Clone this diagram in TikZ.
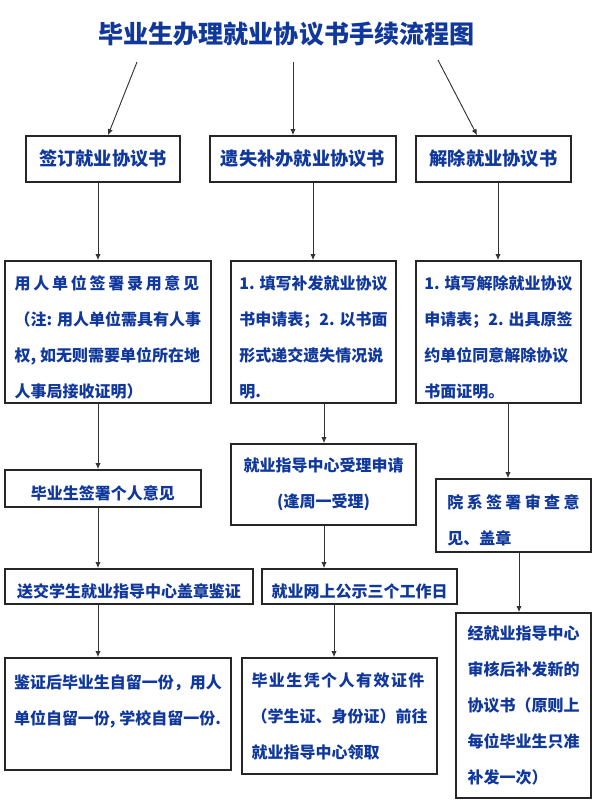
\documentclass[tikz,border=0pt]{standalone}
\usepackage{fontspec}
\setmainfont{Noto Sans CJK SC}
\usetikzlibrary{arrows.meta}
\definecolor{inkblue}{RGB}{16,56,156}
\newcommand\bodyfont{\fontsize{12pt}{27pt}\selectfont\bfseries}
\newcommand\headfont{\fontsize{13.7pt}{16pt}\selectfont\bfseries}
\newcommand\lowstrut{\rule{0pt}{18pt}}
\tikzset{
  box/.style={draw=black!85, line width=1.3pt, text=inkblue, font=\bodyfont,
    align=left, inner sep=0pt},
  boxsize/.style 2 args={minimum width=#1*0.75pt, minimum height=#2*0.75pt},
  flow/.style={->, draw=black!80, line width=0.7pt},
}
\begin{document}
\begin{tikzpicture}[x=0.75pt, y=-0.75pt, >={Latex[length=4.5pt,width=4pt]}]
  \useasboundingbox (0,0) rectangle (600,808);
  \node[text=inkblue, font=\fontsize{18.8pt}{20pt}\selectfont\bfseries] (title) at (286.5,34) {毕业生办理就业协议书手续流程图};
  % three kinds of procedure
  \node[box, font=\headfont, boxsize={154}{46}] (sign) at (103,159) {签订就业协议书};
  \node[box, font=\headfont, boxsize={186}{46}] (lost) at (303,159) {遗失补办就业协议书};
  \node[box, font=\headfont, boxsize={155}{46}] (cancel) at (493.5,159) {解除就业协议书};
  % signing
  \node[box, boxsize={206}{142}] (signUnit) at (108,332) {\lowstrut{\addfontfeature{LetterSpace=17}用人单位签署录用意见}\\（注: 用人单位需具有人事\\权, 如无则需要单位所在地\\人事局接收证明）};
  \node[box, boxsize={196}{37}] (signStu) at (103,488.5) {\lowstrut 毕业生签署个人意见};
  \node[box, boxsize={248}{35}] (signSeal) at (129,586.5) {\lowstrut 送交学生就业指导中心盖章鉴证};
  \node[box, boxsize={226}{112}, text depth=21pt] (signKeep) at (118,714) {鉴证后毕业生自留一份，用人\\单位自留一份, 学校自留一份.};
  % lost
  \node[box, boxsize={165}{142}] (lostForm) at (313.5,332) {\lowstrut 1. 填写补发就业协议\\书申请表；2. 以书面\\形式递交遗失情况说\\明.};
  \node[box, boxsize={185}{81}, align=center] (lostCenter) at (323.5,484.5) {就业指导中心受理申请\\(逢周一受理)};
  \node[box, boxsize={195}{35}] (lostNotice) at (359.5,586.5) {\lowstrut 就业网上公示三个工作日};
  \node[box, boxsize={195}{116}] (lostFetch) at (339.5,716) {{\addfontfeature{LetterSpace=9}毕业生凭个人有效证件}\\（学生证、身份证）前往\\就业指导中心领取};
  % cancel
  \node[box, boxsize={165}{142}] (cancelForm) at (498.5,332) {\lowstrut 1. 填写解除就业协议\\申请表；2. 出具原签\\约单位同意解除协议\\书面证明。};
  \node[box, boxsize={155}{73}] (cancelDept) at (513.5,515.5) {\lowstrut{\addfontfeature{LetterSpace=21}院系签署审查意}\\见、盖章};
  \node[box, boxsize={135}{185}] (cancelReissue) at (523.5,705.5) {经就业指导中心\\审核后补发新的\\协议书（原则上\\每位毕业生只准\\补发一次）};
  % arrows
  \coordinate (t1) at (137,62);
  \coordinate (t2) at (293,62);
  \coordinate (t3) at (438,60);
  \coordinate (h1) at (108,0);
  \coordinate (h3) at (477,0);
  \coordinate (k1) at (98,0);
  \coordinate (k2) at (313,0);
  \coordinate (k3) at (324,0);
  \coordinate (k4) at (334,0);
  \coordinate (k5) at (498,0);
  \coordinate (k6) at (508,0);
  \coordinate (k7) at (519,0);
  \draw[flow] (t1) -- (sign.north -| h1);
  \draw[flow] (t2) -- (lost.north -| t2);
  \draw[flow] (t3) -- (cancel.north -| h3);
  \draw[flow] (sign.south -| k1) -- (signUnit.north -| k1);
  \draw[flow] (signUnit.south -| k1) -- (signStu.north -| k1);
  \draw[flow] (signStu.south -| k1) -- (signSeal.north -| k1);
  \draw[flow] (signSeal.south -| k1) -- (signKeep.north -| k1);
  \draw[flow] (lost.south -| k2) -- (lostForm.north -| k2);
  \draw[flow] (lostForm.south -| k3) -- (lostCenter.north -| k3);
  \draw[flow] (lostCenter.south -| k3) -- (lostNotice.north -| k3);
  \draw[flow] (lostNotice.south -| k4) -- (lostFetch.north -| k4);
  \draw[flow] (cancel.south -| k5) -- (cancelForm.north -| k5);
  \draw[flow] (cancelForm.south -| k6) -- (cancelDept.north -| k6);
  \draw[flow] (cancelDept.south -| k7) -- (cancelReissue.north -| k7);
\end{tikzpicture}
\end{document}
